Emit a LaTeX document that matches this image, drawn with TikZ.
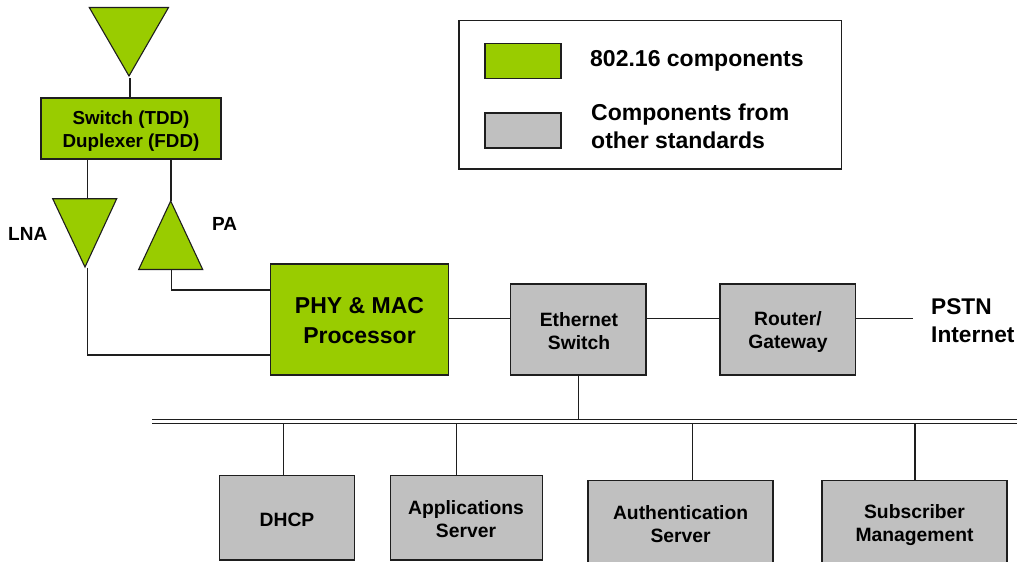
\documentclass[tikz,border=0pt]{standalone}
\usepackage{fontspec}
\setmainfont{Liberation Sans}
\definecolor{gr}{RGB}{153,204,0}
\definecolor{gy}{RGB}{192,192,192}
\definecolor{ln}{RGB}{30,30,30}
\tikzset{x=1pt,y=-1pt,
 line/.style={draw=ln,line width=1.1pt},
 greenbox/.style={draw=ln,line width=1.1pt,fill=gr,inner sep=0pt},
 greybox/.style={draw=ln,line width=1.1pt,fill=gy,inner sep=0pt},
 boxtext/.style={font=\bfseries\fontsize{19.3}{23}\selectfont,align=center,inner sep=0pt},
 lab/.style={font=\bfseries,align=left,inner sep=0pt,anchor=west},
 tri/.style={draw=ln,line width=1.1pt,fill=gr,line join=miter}}
\begin{document}
\begin{tikzpicture}
\useasboundingbox (0,0) rectangle (1017,562);
\coordinate (antbot) at (130,78);
\node[greenbox,minimum width=180pt,minimum height=61pt] (sw) at (131,128.5) {};
\node[boxtext,font=\bfseries\fontsize{18.8}{23}\selectfont] (swt) at (131,131.5) {Switch (TDD)\\Duplexer (FDD)};
\draw[line] (antbot) -- (sw.north -| 130,0);
\draw[tri] (89.3,7.5) -- (168.5,7.5) -- (129,76) -- cycle;
\coordinate (lnatop) at (87.3,198.7);
\coordinate (patop) at (171,200.5);
\draw[line] (sw.south -| 87.3,0) -- (lnatop);
\draw[line] (sw.south -| 171,0) -- (patop);
\draw[tri] (52.7,198.7) -- (116.7,198.7) -- (85,267) -- cycle;
\draw[tri] (138.7,269.5) -- (202.7,269.5) -- (170.7,201) -- cycle;
\node[lab,font=\bfseries\fontsize{19}{22}\selectfont] (lna) at (8,233.5) {LNA};
\node[lab,font=\bfseries\fontsize{19}{22}\selectfont] (pa) at (212,224) {PA};
\node[greenbox,minimum width=178pt,minimum height=111pt] (phy) at (359.5,319.5) {};
\node[boxtext,font=\bfseries\fontsize{23}{30}\selectfont] (phyt) at (359.5,321) {PHY \& MAC\\Processor};
\coordinate (pab) at (171.3,269.5);
\coordinate (lnab) at (87.3,267.5);
\draw[line] (pab) -- (171.3,290) -- (phy.west |- 0,290);
\draw[line] (lnab) -- (87.3,355) -- (phy.west |- 0,355);
\node[greybox,minimum width=135.5pt,minimum height=91pt] (eth) at (578.25,329.5) {};
\node[boxtext] (etht) at (579,331) {Ethernet\\Switch};
\node[greybox,minimum width=135.5pt,minimum height=91pt] (rt) at (787.75,329.5) {};
\node[boxtext] (rtt) at (788,332.5) {Router/\\Gateway};
\draw[line] (phy.east |- 0,318.7) -- (eth.west |- 0,318.7);
\draw[line] (eth.east |- 0,318.7) -- (rt.west |- 0,318.7);
\coordinate (pstn) at (912.5,318.7);
\draw[line] (rt.east |- 0,318.7) -- (pstn);
\node[lab,font=\bfseries\fontsize{22.7}{28}\selectfont] (net) at (931,320.5) {PSTN\\Internet};
\coordinate (busl) at (152,419.3);
\coordinate (busr) at (1017,419.3);
\coordinate (busbl) at (152,423.5);
\coordinate (busbr) at (1017,423.5);
\draw[line] (busl) -- (busr);
\draw[line] (busbl) -- (busbr);
\draw[line] (eth.south -| 578.7,0) -- (busl -| 578.7,0);
\node[greybox,minimum width=135.5pt,minimum height=84.5pt] (dhcp) at (287,517.75) {};
\node[boxtext] (dhcpt) at (287,520) {DHCP};
\node[greybox,minimum width=152pt,minimum height=84.5pt] (app) at (466.5,517.75) {};
\node[boxtext] (appt) at (466,519) {Applications\\Server};
\node[greybox,minimum width=185pt,minimum height=84pt] (auth) at (680.5,522.7) {};
\node[boxtext] (autht) at (680.6,524) {Authentication\\Server};
\node[greybox,minimum width=185pt,minimum height=84pt] (sub) at (914.5,522.7) {};
\node[boxtext] (subt) at (914.5,525.5) {Subscriber\\Management};
\draw[line] (busbl -| 283.7,0) -- (dhcp.north -| 283.7,0);
\draw[line] (busbl -| 456.7,0) -- (app.north -| 456.7,0);
\draw[line] (busbl -| 692.7,0) -- (auth.north -| 692.7,0);
\draw[line] (busbl -| 915,0) -- (sub.north -| 915,0);
\node[draw=ln,line width=1.1pt,fill=white,minimum width=382.5pt,minimum height=148.5pt,inner sep=0pt] (leg) at (650.2,94.7) {};
\node[greenbox,minimum width=76pt,minimum height=35.5pt] (lg1) at (523,61) {};
\node[greybox,minimum width=76pt,minimum height=35pt] (lg2) at (523,130.5) {};
\node[lab,font=\bfseries\fontsize{23}{28}\selectfont] (t1) at (590,61) {802.16 components};
\node[lab,font=\bfseries\fontsize{23}{28}\selectfont] (t2) at (591,126) {Components from\\other standards};
\end{tikzpicture}
\end{document}
